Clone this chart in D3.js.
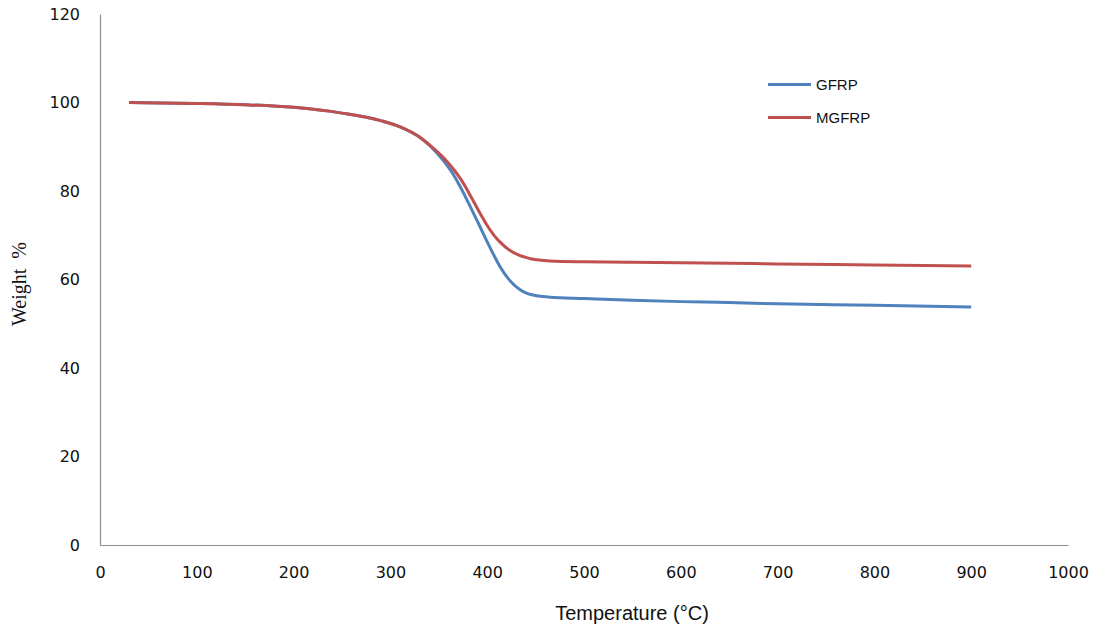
<!DOCTYPE html>
<html>
<head>
<meta charset="utf-8">
<script src="https://cdn.jsdelivr.net/npm/d3@7"></script>
<style>
  body { margin: 0; background: #fff; }
  svg { display: block; }
</style>
</head>
<body>
<div id="chart"></div>
<script>
// TGA readings
var temperature = [30, 100, 150, 200, 250, 290, 310, 330, 341, 355, 367, 372, 380, 384, 392, 400, 410, 413, 424, 434, 440, 445, 465, 500, 550, 600, 650, 700, 800, 900];
var gfrp  = [100, 99.8, 99.5, 98.9, 97.6, 95.9, 94.5, 92.2, 90.2, 86.8, 83.0, 81.0, 77.6, 75.8, 72.2, 68.5, 64.2, 63.0, 59.6, 57.7, 57.0, 56.6, 56.0, 55.7, 55.3, 55.0, 54.8, 54.5, 54.2, 53.8];
var mgfrp = [100, 99.8, 99.5, 98.9, 97.6, 95.9, 94.5, 92.2, 90.3, 87.5, 84.4, 82.9, 80.0, 78.4, 75.2, 72.2, 69.2, 68.5, 66.5, 65.4, 65.0, 64.7, 64.2, 64.0, 63.9, 63.8, 63.7, 63.5, 63.3, 63.05];
var xTicks = [0, 100, 200, 300, 400, 500, 600, 700, 800, 900, 1000];
var yTicks = [0, 20, 40, 60, 80, 100, 120];
var seriesNames = ["GFRP", "MGFRP"];
var seriesColors = ["#4F81BD", "#C0504D"];

var WIDTH = 1099, HEIGHT = 632;
var plotLeft = 100, plotRight = 1068, plotTop = 14, plotBottom = 545;

var svg = d3.select('#chart')
            .append('svg')
            .attr('width', WIDTH)
            .attr('height', HEIGHT);

var x = d3.scaleLinear().domain([0, 1000]).range([plotLeft, plotRight]);
var y = d3.scaleLinear().domain([0, 120]).range([plotBottom, plotTop]);

// axes, no tick marks
var xAxis = svg.append('g')
               .attr('transform', 'translate(0,' + plotBottom + ')')
               .call(d3.axisBottom(x).tickValues(xTicks).tickFormat(d3.format('d')).tickSize(0).tickPadding(22));
var yAxis = svg.append('g')
               .attr('transform', 'translate(' + plotLeft + ',0)')
               .call(d3.axisLeft(y).tickValues(yTicks).tickFormat(d3.format('d')).tickSize(0).tickPadding(20));

[xAxis, yAxis].forEach(function(a) {
  a.select('.domain').attr('stroke', '#8c8c8c').attr('stroke-width', 1.2);
  a.selectAll('text')
   .attr('font-family', 'DejaVu Sans, Verdana, sans-serif')
   .attr('font-size', 16)
   .attr('fill', '#111');
});

// lines
var rows = temperature.map(function(t, i) { return [t, gfrp[i], mgfrp[i]]; });
var line = function(k) {
  return d3.line()
           .x(function(d) { return x(d[0]); })
           .y(function(d) { return y(d[k]); })
           .curve(d3.curveMonotoneX);
};

[1, 2].forEach(function(k) {
  svg.append('path')
     .datum(rows)
     .attr('fill', 'none')
     .attr('stroke', seriesColors[k - 1])
     .attr('stroke-width', 3)
     .attr('d', line(k));
});

// legend
var legend = svg.selectAll('.legend')
                .data(seriesNames)
                .enter()
                .append('g')
                .attr('transform', function(d, i) { return 'translate(768,' + (84.5 + i * 33) + ')'; });
legend.append('line')
      .attr('x1', 0).attr('x2', 43)
      .attr('stroke', function(d, i) { return seriesColors[i]; })
      .attr('stroke-width', 3);
legend.append('text')
      .attr('x', 48).attr('y', 5.5)
      .attr('font-family', 'Liberation Sans, Arial, sans-serif')
      .attr('font-size', 15)
      .attr('fill', '#111')
      .text(function(d) { return d; });

// axis titles
svg.append('text')
   .attr('x', 632).attr('y', 620)
   .attr('text-anchor', 'middle')
   .attr('font-family', 'Liberation Sans, Arial, sans-serif')
   .attr('font-size', 20)
   .attr('fill', '#111')
   .text('Temperature (°C)');

svg.append('text')
   .attr('transform', 'translate(26,284) rotate(-90)')
   .attr('text-anchor', 'middle')
   .attr('font-family', 'Liberation Serif, Times New Roman, serif')
   .attr('font-size', 20)
   .attr('fill', '#111')
   .style('white-space', 'pre')
   .text('Weight  %');
</script>
</body>
</html>
